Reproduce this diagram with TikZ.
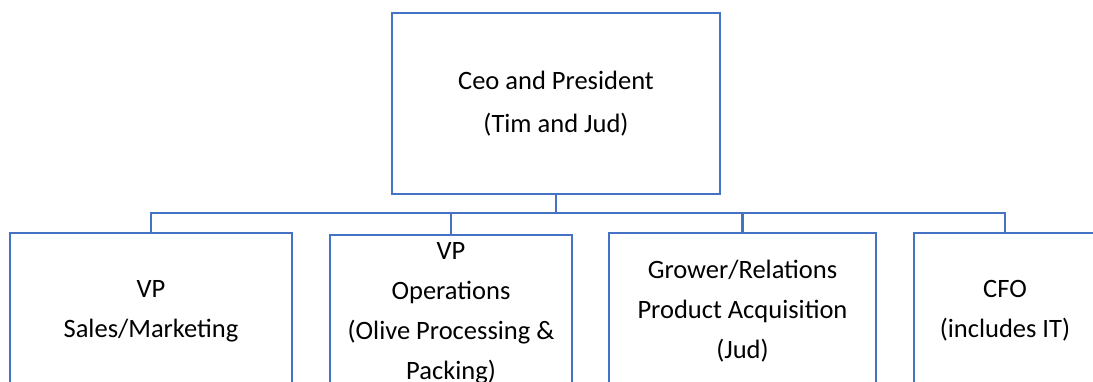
\documentclass[tikz,border=0pt]{standalone}
\usepackage{fontspec}
\setmainfont{Carlito}
\definecolor{orgblue}{RGB}{68,114,196}
\begin{document}
\begin{tikzpicture}
    [
        x=1pt, y=-1pt,
        box/.style = {draw=orgblue, shape=rectangle, line width=2.4pt, inner sep=0pt, align=center, font=\fontsize{26.5}{43}\selectfont},
        role/.style = {box, minimum height=156pt, font=\fontsize{26.5}{40}\selectfont},
        link/.style = {draw=orgblue, line width=2.4pt},
    ]

    \useasboundingbox (0,0) rectangle (1093,381);
    \clip (0,0) rectangle (1093,381);

    \node[box, minimum width=328pt, minimum height=181pt] (ceo) at (556,103.5) {Ceo and President\\(Tim and Jud)};

    \node[role, minimum width=282pt] (sales) at (151,311)   {VP\\Sales/Marketing};
    \node[role, minimum width=242pt] (ops)   at (451,313)   {VP\\Operations\\(Olive Processing \&\\Packing)};
    \node[role, minimum width=267pt] (grow)  at (742.5,311) {Grower/Relations\\Product Acquisition\\(Jud)};
    \node[role, minimum width=182pt] (cfo)   at (1005,311)  {CFO\\(includes IT)};

    \coordinate (bus) at (556,213);

    \draw[link] (ceo.south) -- (bus);
    \draw[link] (sales.north) |- (bus) -| (cfo.north);
    \draw[link] (ops.north) -- (ops.north |- bus);
    \draw[link] (grow.north) -- (grow.north |- bus);
\end{tikzpicture}
\end{document}
